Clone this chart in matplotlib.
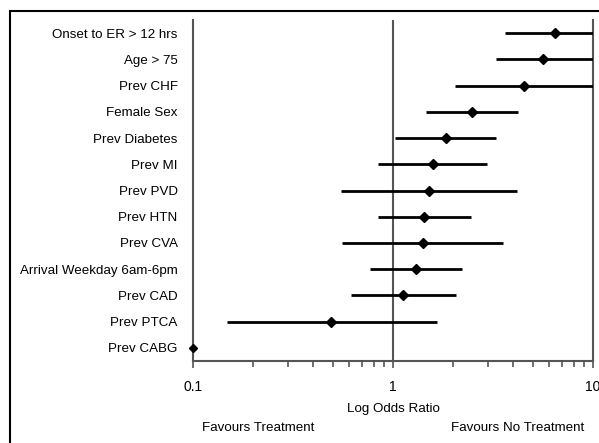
import matplotlib
matplotlib.use("Agg")
import matplotlib.pyplot as plt
from matplotlib.ticker import FixedLocator, FixedFormatter, LogLocator, NullFormatter
from matplotlib.patches import Rectangle

plt.rcParams['font.family'] = ['Liberation Sans', 'DejaVu Sans']

labels = ["Onset to ER > 12 hrs", "Age > 75", "Prev CHF", "Female Sex", "Prev Diabetes",
          "Prev MI", "Prev PVD", "Prev HTN", "Prev CVA", "Arrival Weekday 6am-6pm",
          "Prev CAD", "Prev PTCA", "Prev CABG"]
odds = [6.46, 5.62, 4.52, 2.48, 1.84, 1.58, 1.51, 1.43, 1.41, 1.30, 1.12, 0.49, 0.10]
ci_low = [3.63, 3.27, 2.04, 1.46, 1.02, 0.84, 0.55, 0.84, 0.556, 0.77, 0.62, 0.148, 0.10]
ci_high = [12.0, 12.0, 12.0, 4.22, 3.27, 2.95, 4.17, 2.45, 3.55, 2.21, 2.06, 1.66, 0.10]
xticks = [0.1, 1, 10]
xticklabels = ["0.1", "1", "10"]

W, H = 599, 443
fig = plt.figure(figsize=(W / 100, H / 100), dpi=100)
ax = fig.add_axes([193 / W, 1 - 361 / H, (593 - 193) / W, (361 - 20) / H])

ypos = list(range(len(labels)))
for y, lo, hi in zip(ypos, ci_low, ci_high):
    ax.plot([lo, hi], [y, y], color='black', lw=2.0, solid_capstyle='butt', zorder=3)
ax.plot(odds[:-1], ypos[:-1], linestyle='none', marker='D', color='black', ms=5.2, zorder=4)
ax.plot(odds[-1:], ypos[-1:], linestyle='none', marker='D', color='black', ms=4.2, zorder=4,
        clip_on=False)

ax.axvline(1, color='#555555', lw=1.5, zorder=2)

ax.set_xscale('log')
ax.set_xlim(0.1, 10)
ax.set_ylim(len(labels) - 0.5, -0.5)

ax.xaxis.set_major_locator(FixedLocator(xticks))
ax.xaxis.set_major_formatter(FixedFormatter(xticklabels))
ax.xaxis.set_minor_locator(LogLocator(base=10, subs=range(2, 10)))
ax.xaxis.set_minor_formatter(NullFormatter())
ax.tick_params(axis='x', which='major', length=5, width=1.2, color='#555555', pad=9,
               labelsize=10, direction='out')
ax.tick_params(axis='x', which='minor', length=4, width=1.2, color='#555555', direction='out')

ax.set_yticks(ypos)
ax.set_yticklabels(labels)
ax.tick_params(axis='y', length=0, pad=11, labelsize=9.6)

ax.spines['top'].set_visible(False)
for s in ['left', 'right', 'bottom']:
    ax.spines[s].set_color('#555555')
    ax.spines[s].set_linewidth(1.5)

fig.text(393 / W, 1 - 409 / H, "Log Odds Ratio", ha='center', va='center', fontsize=9.6)
fig.text(258 / W, 1 - 428 / H, "Favours Treatment", ha='center', va='center', fontsize=9.6)
fig.text(518 / W, 1 - 428 / H, "Favours No Treatment", ha='center', va='center', fontsize=9.6)

fig.patches.append(Rectangle((10 / W, -0.1), 1.2, 1 - 11 / H + 0.1, transform=fig.transFigure,
                             fill=False, edgecolor='black', lw=1.5, figure=fig))

fig.savefig("out.png", dpi=100)
